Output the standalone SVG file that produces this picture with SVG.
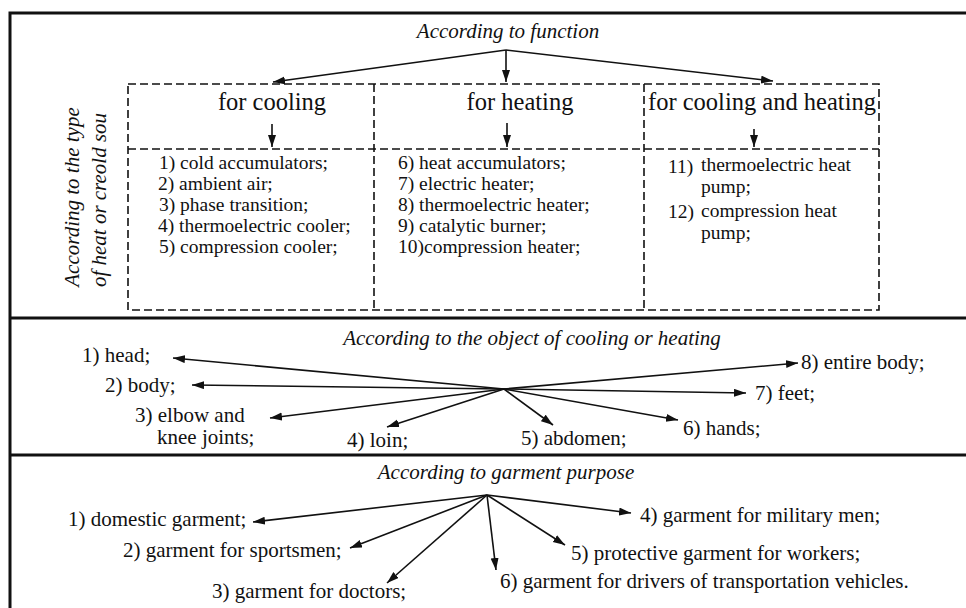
<svg xmlns="http://www.w3.org/2000/svg" width="966" height="608" viewBox="0 0 966 608" font-family="'Liberation Serif', 'DejaVu Serif', 'Times New Roman', serif">
<defs>
<marker id="ah" markerUnits="userSpaceOnUse" markerWidth="13" markerHeight="9" refX="12" refY="4" orient="auto">
<path d="M0,0 L12,4 L0,8 z" fill="#111"/>
</marker>
<style>
text{font-family:'Liberation Serif','DejaVu Serif','Times New Roman',serif;fill:#111;font-size:21px}
.it{font-style:italic}
.hd{font-size:24.5px;text-anchor:middle}
.mid{text-anchor:middle}
.li{font-size:19.5px}
.frame{stroke:#111;stroke-width:3;fill:none}
.dash{stroke:#111;stroke-width:1.6;fill:none;stroke-dasharray:8 4}
.con{stroke:#111;stroke-width:1.6;fill:none;marker-end:url(#ah)}
</style>
</defs>
<rect width="966" height="608" fill="#fff"/>
<g id="frame">
<path class="frame" d="M10,608 V13 H966"/>
<path class="frame" d="M10,318 H966 M10,455 H966"/>
</g>
<g id="table">
<rect class="dash" x="128" y="84" width="751" height="226"/>
<path class="dash" d="M374,84 V310 M644,84 V310 M128,149 H879"/>
</g>
<g id="connectors">
<path class="con" d="M506,50 L273,82"/>
<path class="con" d="M506,50 L506,82"/>
<path class="con" d="M506,50 L773,81"/>
<path class="con" d="M272,124 L272,147"/>
<path class="con" d="M507,123 L507,147"/>
<path class="con" d="M754,129 L754,147"/>
<path class="con" d="M504,389 L173,358"/>
<path class="con" d="M504,389 L192,385"/>
<path class="con" d="M504,389 L270,418"/>
<path class="con" d="M504,389 L387,427"/>
<path class="con" d="M504,389 L553,425"/>
<path class="con" d="M504,389 L678,420"/>
<path class="con" d="M504,389 L746,393"/>
<path class="con" d="M504,389 L798,363"/>
<path class="con" d="M487,495 L253,522"/>
<path class="con" d="M487,495 L350,548"/>
<path class="con" d="M487,495 L387,583"/>
<path class="con" d="M487,495 L631,513"/>
<path class="con" d="M487,495 L565,545"/>
<path class="con" d="M487,495 L496,570"/>
</g>
<g id="function"><text class="it mid" x="508" y="38">According to function</text></g>
<g id="type-label">
<text class="it mid" transform="translate(79,197) rotate(-90)">According to the type</text>
<text class="it mid" transform="translate(106,200) rotate(-90)">of heat or creold sou</text>
</g>
<g id="for-cooling"><text class="hd" x="272" y="110">for cooling</text></g>
<g id="for-heating"><text class="hd" x="520" y="110">for heating</text></g>
<g id="for-cooling-heating"><text class="hd" x="762" y="110">for cooling and heating</text></g>
<g id="cooling-list" class="li">
<text class="li" x="159" y="169">1) cold accumulators;</text>
<text class="li" x="158" y="190">2) ambient air;</text>
<text class="li" x="159" y="211">3) phase transition;</text>
<text class="li" x="158" y="232">4) thermoelectric cooler;</text>
<text class="li" x="159" y="253">5) compression cooler;</text>
</g>
<g id="heating-list">
<text class="li" x="398" y="169">6) heat accumulators;</text>
<text class="li" x="398" y="190">7) electric heater;</text>
<text class="li" x="398" y="211">8) thermoelectric heater;</text>
<text class="li" x="398" y="232">9) catalytic burner;</text>
<text class="li" x="398" y="253">10)compression heater;</text>
</g>
<g id="both-list">
<text class="li" x="668" y="173">11)</text>
<text class="li" x="701" y="171">thermoelectric heat</text>
<text class="li" x="701" y="193">pump;</text>
<text class="li" x="668" y="218">12)</text>
<text class="li" x="701" y="217">compression heat</text>
<text class="li" x="701" y="239">pump;</text>
</g>
<g id="object"><text class="it mid" x="532" y="345">According to the object of cooling or heating</text></g>
<g id="head"><text x="82" y="362">1) head;</text></g>
<g id="body"><text x="105" y="392">2) body;</text></g>
<g id="elbow"><text x="135" y="422">3) elbow and</text><text x="157" y="444">knee joints;</text></g>
<g id="loin"><text x="347" y="447">4) loin;</text></g>
<g id="abdomen"><text x="521" y="445">5) abdomen;</text></g>
<g id="hands"><text x="683" y="435">6) hands;</text></g>
<g id="feet"><text x="755" y="400">7) feet;</text></g>
<g id="entire"><text x="801" y="369">8) entire body;</text></g>
<g id="purpose"><text class="it mid" x="506" y="479">According to garment purpose</text></g>
<g id="domestic"><text x="68" y="526">1) domestic garment;</text></g>
<g id="sportsmen"><text x="123" y="557">2) garment for sportsmen;</text></g>
<g id="doctors"><text x="212" y="598">3) garment for doctors;</text></g>
<g id="military"><text x="640" y="522">4) garment for military men;</text></g>
<g id="protective"><text x="571" y="560">5) protective garment for workers;</text></g>
<g id="drivers"><text x="500" y="588">6) garment for drivers of transportation vehicles.</text></g>
</svg>
